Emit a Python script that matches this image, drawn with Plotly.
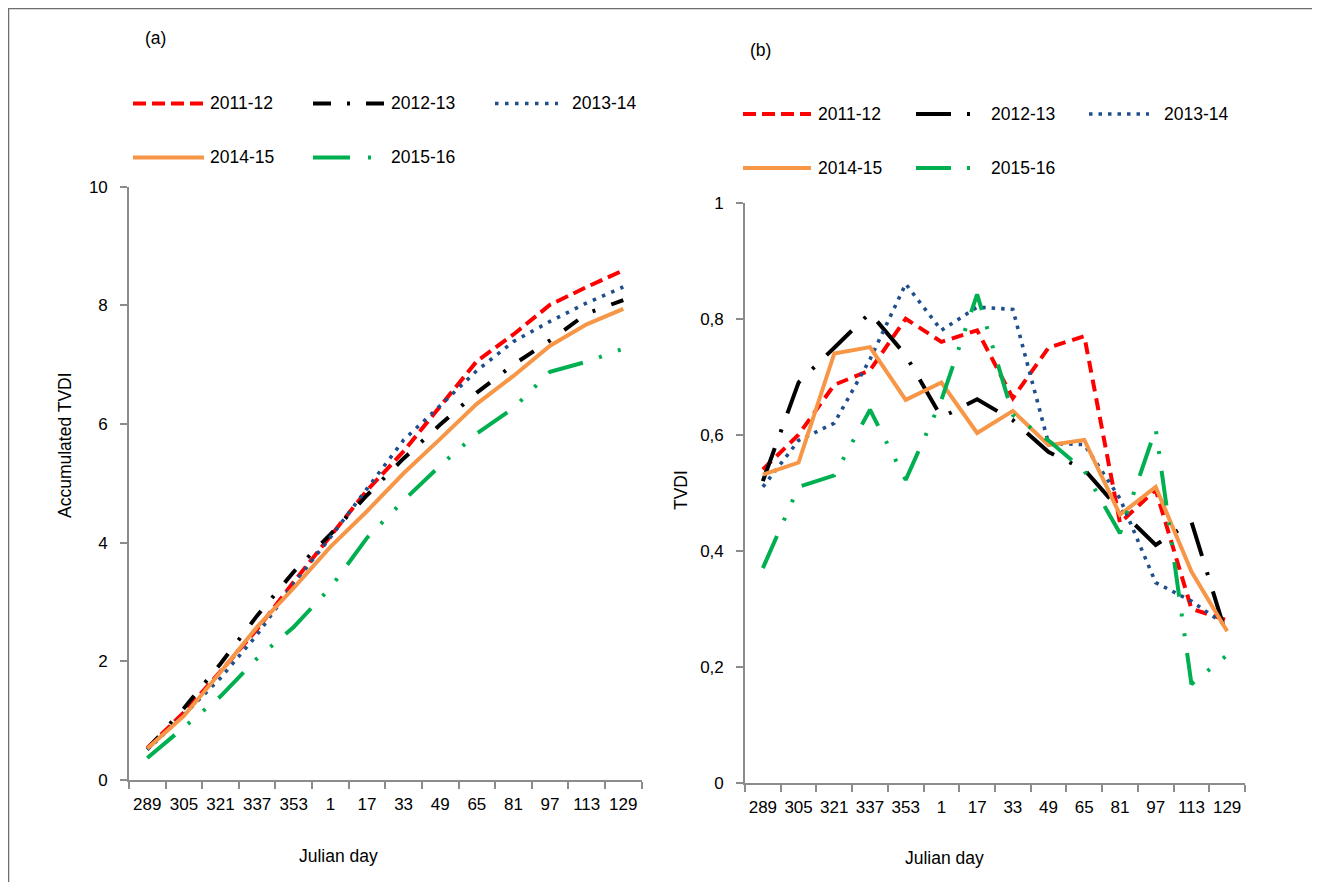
import plotly.graph_objects as go

# ---------------- data ----------------
julian_days = ["289", "305", "321", "337", "353", "1", "17", "33", "49", "65", "81", "97", "113", "129"]
seasons = ["2011-12", "2012-13", "2013-14", "2014-15", "2015-16"]

# panel (a): accumulated TVDI
acc_2011 = [0.54, 1.14, 1.83, 2.54, 3.34, 4.10, 4.88, 5.54, 6.29, 7.06, 7.51, 8.01, 8.31, 8.59]
acc_2012 = [0.52, 1.21, 1.96, 2.77, 3.51, 4.14, 4.80, 5.42, 5.99, 6.53, 7.00, 7.41, 7.86, 8.09]
acc_2013 = [0.51, 1.10, 1.72, 2.45, 3.31, 4.09, 4.91, 5.73, 6.31, 6.90, 7.39, 7.73, 8.04, 8.31]
acc_2014 = [0.53, 1.08, 1.82, 2.58, 3.24, 3.93, 4.53, 5.17, 5.75, 6.34, 6.81, 7.32, 7.68, 7.94]
acc_2015 = [0.37, 0.88, 1.41, 2.05, 2.58, 3.24, 4.08, 4.71, 5.30, 5.84, 6.27, 6.88, 7.05, 7.27]

# panel (b): TVDI
tvdi_2011 = [0.54, 0.60, 0.686, 0.711, 0.80, 0.76, 0.78, 0.663, 0.75, 0.77, 0.448, 0.505, 0.30, 0.28]
tvdi_2012 = [0.52, 0.69, 0.75, 0.81, 0.737, 0.63, 0.661, 0.625, 0.57, 0.54, 0.47, 0.41, 0.45, 0.25]
tvdi_2013 = [0.51, 0.59, 0.62, 0.73, 0.86, 0.78, 0.82, 0.816, 0.585, 0.583, 0.49, 0.345, 0.313, 0.27]
tvdi_2014 = [0.531, 0.552, 0.74, 0.751, 0.66, 0.69, 0.603, 0.641, 0.582, 0.591, 0.462, 0.51, 0.364, 0.261]
tvdi_2015 = [0.37, 0.51, 0.53, 0.643, 0.522, 0.66, 0.842, 0.634, 0.59, 0.538, 0.43, 0.61, 0.17, 0.22]

acc_ticks = [0, 2, 4, 6, 8, 10]
tvdi_ticks = [0, 0.2, 0.4, 0.6, 0.8, 1]

# ---------------- styles ----------------
colors = ["#FF0000", "#000000", "#1F4E8C", "#F79646", "#00B050"]
widths = [4, 4, 3.6, 4, 4]
dash_a = ["13px,6px", "17px,17px,3px,17px", "3.5px,6.5px", "solid", "36px,17px,3px,17px,3px,17px"]
dash_b = ["12px,7px", "35px,17px,3px,17px", "3.5px,6px", "solid", "35px,17px,3px,17px,3px,17px"]
legend_dash_a = ["13px,6px", "18px,16px,3px,16px", "3.5px,6.5px", "solid", "37px,18px,3px,20px"]
legend_dash_b = ["13px,6px", "35px,16px,3px,20px", "3.5px,6px", "solid", "35px,16px,3px,20px"]

W, H = 1304, 874
OX, OY = 8, 8


def px(x):
    return (x - OX) / W


def py(y):
    return 1 - (y - OY) / H


FONT = "Liberation Sans, Arial, sans-serif"
FS_TICK = 17
FS_TEXT = 17.5

fig = go.Figure()

acc_series = [acc_2011, acc_2012, acc_2013, acc_2014, acc_2015]
tvdi_series = [tvdi_2011, tvdi_2012, tvdi_2013, tvdi_2014, tvdi_2015]

for i, name in enumerate(seasons):
    fig.add_trace(go.Scatter(
        x=julian_days, y=acc_series[i], name=name, mode="lines",
        line=dict(color=colors[i], width=widths[i], dash=dash_a[i]),
        xaxis="x", yaxis="y", showlegend=False, hoverinfo="x+y+name"))
for i, name in enumerate(seasons):
    fig.add_trace(go.Scatter(
        x=julian_days, y=tvdi_series[i], name=name, mode="lines",
        line=dict(color=colors[i], width=widths[i], dash=dash_b[i]),
        xaxis="x2", yaxis="y2", showlegend=False, hoverinfo="x+y+name"))

axis_color = "#8C8C8C"
tickfont = dict(family=FONT, size=FS_TICK, color="#000000")

xcommon = dict(type="category", categoryorder="array", categoryarray=julian_days,
               range=[-0.5, len(julian_days) - 0.5], showline=True, linecolor=axis_color,
               linewidth=1.6, ticks="outside", ticklen=7, tickwidth=1.6, tickcolor=axis_color,
               tickson="boundaries", showgrid=False, zeroline=False, tickfont=tickfont,
               tickangle=0, automargin=False, ticklabelstandoff=8, fixedrange=True)
ycommon = dict(showline=True, linecolor=axis_color, linewidth=1.6, ticks="outside",
               ticklen=7, tickwidth=1.6, tickcolor=axis_color, showgrid=False,
               zeroline=False, tickfont=tickfont, automargin=False,
               ticklabelstandoff=9, fixedrange=True)

fig.update_layout(
    width=W, height=H, margin=dict(l=0, r=0, t=0, b=0, autoexpand=False),
    paper_bgcolor="white", plot_bgcolor="white",
    separators=", ",
    showlegend=False,
    font=dict(family=FONT, size=FS_TEXT, color="#000000"),
    xaxis=dict(domain=[px(129), px(641.6)], anchor="y", **xcommon),
    yaxis=dict(domain=[py(780), py(186.7)], anchor="x", range=[0, 10],
               tickvals=acc_ticks, **ycommon),
    xaxis2=dict(domain=[px(745), px(1245)], anchor="y2", **xcommon),
    yaxis2=dict(domain=[py(782.7), py(202.7)], anchor="x2", range=[0, 1],
                tickvals=tvdi_ticks, tickformat=".1~f", **ycommon),
)

shapes = []
annotations = []

# frame (top & left edges)
shapes.append(dict(type="line", xref="paper", yref="paper", x0=0, x1=1, y0=py(8.5), y1=py(8.5),
                   line=dict(color="#6E6E6E", width=1.5)))
shapes.append(dict(type="line", xref="paper", yref="paper", x0=px(8.5), x1=px(8.5), y0=0, y1=1,
                   line=dict(color="#6E6E6E", width=1.5)))


def legend_item(idx, x0, x1, ytext, xtext, dashes):
    shapes.append(dict(type="line", xref="paper", yref="paper", x0=px(x0), x1=px(x1),
                       y0=py(ytext), y1=py(ytext),
                       line=dict(color=colors[idx], width=widths[idx], dash=dashes[idx])))
    annotations.append(dict(xref="paper", yref="paper", x=px(xtext), y=py(ytext),
                            text=seasons[idx], showarrow=False, xanchor="left", yanchor="middle",
                            font=dict(family=FONT, size=FS_TEXT, color="#000000")))


# legend for panel (a)
legend_item(0, 133, 204, 103.5, 208, legend_dash_a)
legend_item(1, 313, 384, 103.5, 389, legend_dash_a)
legend_item(2, 495, 558, 103.5, 570, legend_dash_a)
legend_item(3, 133, 204, 157.5, 208, legend_dash_a)
legend_item(4, 313, 371, 157.5, 389, legend_dash_a)
# legend for panel (b)
legend_item(0, 743, 811, 114, 816, legend_dash_b)
legend_item(1, 916, 971, 114, 989, legend_dash_b)
legend_item(2, 1089, 1149, 114, 1162, legend_dash_b)
legend_item(3, 743, 811, 168, 816, legend_dash_b)
legend_item(4, 916, 971, 168, 989, legend_dash_b)


# panel labels and axis titles
def text(t, x, y, angle=0):
    annotations.append(dict(xref="paper", yref="paper", x=px(x), y=py(y), text=t,
                            showarrow=False, xanchor="center", yanchor="middle", textangle=angle,
                            font=dict(family=FONT, size=FS_TEXT, color="#000000")))


text("(a)", 155, 38)
text("(b)", 760, 50)
text("Accumulated TVDI", 65, 445, -90)
text("TVDI", 681, 490, -90)
text("Julian day", 338, 856)
text("Julian day", 944, 858)

fig.update_layout(shapes=shapes, annotations=annotations)

fig.write_html("out.html")
